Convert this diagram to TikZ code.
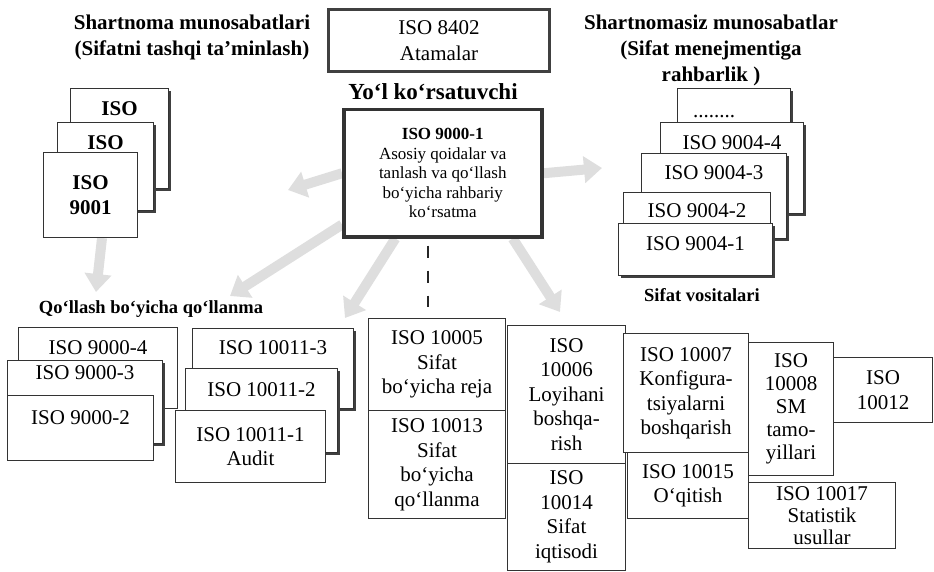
\documentclass[tikz,border=0pt]{standalone}
\usepackage{fontspec}
\setmainfont{Liberation Serif}
\usetikzlibrary{arrows.meta}
\usetikzlibrary{shadows}
\usetikzlibrary{backgrounds}

\begin{document}
\begin{tikzpicture}[x=1pt, y=-1pt,
  isobox/.style={draw=black!80, line width=1pt, fill=white, anchor=north west, inner xsep=2pt, inner ysep=0pt, align=center, font=\fontsize{21}{24.5}\selectfont},
  boldbox/.style={isobox, font=\bfseries\fontsize{21}{24.5}\selectfont},
  shadowed/.style={drop shadow={shadow xshift=2.5pt, shadow yshift=-2.5pt, fill=black!75, opacity=1}},
  heading/.style={align=center, font=\bfseries\fontsize{21}{26}\selectfont},
  caption/.style={font=\bfseries\fontsize{18.5}{22}\selectfont},
  palearrow/.style={line width=10pt, black!13, -{Triangle[width=26pt,length=18pt]}},
  dashline/.style={line width=2pt, black!85, dash pattern=on 12pt off 13pt, dash phase=18pt}]
\useasboundingbox (0,0) rectangle (934,572);

\node[heading] (tleft) at (192,37) {Shartnoma munosabatlari\\(Sifatni tashqi ta'minlash)};
\node[heading] (tright) at (711,50) {Shartnomasiz munosabatlar\\(Sifat menejmentiga\\rahbarlik )};
\node[isobox, line width=3pt, draw=black!75, minimum width=221pt, minimum height=62pt, font=\fontsize{21}{26}\selectfont] (n8402) at (327,8) {ISO 8402\\Atamalar};
\node[font=\bfseries\fontsize{23}{26}\selectfont] (guide) at (433,92) {Yo‘l ko‘rsatuvchi};
\node[isobox, line width=3.5pt, draw=black!80, minimum width=198pt, minimum height=127pt, font=\fontsize{17}{19.5}\selectfont] (n90001) at (342,108) {{\bfseries ISO 9000-1}\\Asosiy qoidalar va\\tanlash va qo‘llash\\bo‘yicha rahbariy\\ko‘rsatma};

\node[boldbox, shadowed, minimum width=98pt, text height=27pt, text depth=73pt] (iso1) at (70,88) {ISO};
\node[boldbox, shadowed, minimum width=96pt, text height=27pt, text depth=61pt] (iso2) at (57,122) {ISO};
\node[boldbox, minimum width=94pt, minimum height=85pt] (iso3) at (43,152) {ISO\\9001};

\node[isobox, shadowed, minimum width=113pt, text height=29pt, text depth=88pt] (rdots) at (677,88) {........\hspace*{40pt}};
\node[isobox, shadowed, minimum width=143pt, text height=27pt, text depth=64pt] (r4) at (660,122) {ISO 9004-4};
\node[isobox, shadowed, minimum width=145pt, text height=26pt, text depth=59pt] (r3) at (641,153) {ISO 9004-3};
\node[isobox, minimum width=147pt, text height=25pt, text depth=33pt] (r2) at (623,192) {ISO 9004-2};
\node[isobox, shadowed, minimum width=154pt, text height=27pt, text depth=25pt] (r1) at (618,223) {ISO 9004-1};
\node[caption] (vosita) at (702,295) {Sifat vositalari};

\node[caption] (qollash) at (151,309) {Qo‘llash bo‘yicha qo‘llanma};
\node[isobox, minimum width=159pt, text height=27pt, text depth=54pt] (a4) at (18,327) {ISO 9000-4};
\node[isobox, shadowed, minimum width=155pt, text height=19pt, text depth=64pt] (a3) at (7,360) {ISO 9000-3};
\node[isobox, minimum width=146pt, text height=29pt, text depth=36pt] (a2) at (7,395) {ISO 9000-2};
\node[isobox, shadowed, minimum width=161pt, text height=26pt, text depth=54pt] (b3) at (192,328) {ISO 10011-3};
\node[isobox, shadowed, minimum width=152pt, text height=28pt, text depth=56pt] (b2) at (185,368) {ISO 10011-2};
\node[isobox, minimum width=150pt, minimum height=72pt] (b1) at (175,410) {ISO 10011-1\\Audit};

\node[isobox, minimum width=137pt, minimum height=92pt] (c05) at (368,318) {ISO 10005\\Sifat\\bo‘yicha reja};
\node[isobox, minimum width=137pt, minimum height=108pt] (c13) at (368,410) {ISO 10013\\Sifat\\bo‘yicha\\qo‘llanma};
\node[isobox, minimum width=118pt, minimum height=138pt] (c06) at (507,325) {ISO\\10006\\Loyihani\\boshqa-\\rish};
\node[isobox, minimum width=118pt, minimum height=107pt] (c14) at (507,463) {ISO\\10014\\Sifat\\iqtisodi};
\node[isobox, minimum width=125pt, minimum height=119pt] (c07) at (623,333) {ISO 10007\\Konfigura-\\tsiyalarni\\boshqarish};
\node[isobox, minimum width=121pt, minimum height=66pt] (c15) at (627,452) {ISO 10015\\O‘qitish};
\node[isobox, minimum width=85pt, minimum height=133pt, font=\fontsize{21}{23}\selectfont] (c08) at (748,342) {ISO\\10008\\SM\\tamo-\\yillari};
\node[isobox, minimum width=99pt, minimum height=65pt] (c12) at (833,357) {ISO\\10012};
\node[isobox, minimum width=147pt, minimum height=66pt, font=\fontsize{21}{22}\selectfont] (c17) at (748,482) {ISO 10017\\Statistik\\usullar};

\coordinate (tipL) at (288,190);
\coordinate (tipLL) at (230,296);
\coordinate (tipD) at (345,318);
\coordinate (tipDR) at (560,312);
\coordinate (tipR) at (602,168);
\coordinate (tipS) at (96,292);
\coordinate (dashend) at (428,307);

\begin{scope}[on background layer]
\draw[palearrow] (n90001.west) -- (tipL);
\draw[palearrow] (n90001.207) -- (tipLL);
\draw[palearrow] (n90001.234) -- (tipD);
\draw[palearrow] (n90001.317) -- (tipDR);
\draw[palearrow] (n90001.east) -- (tipR);
\draw[palearrow] (iso3.-75) -- (tipS);
\end{scope}
\draw[dashline] (n90001.south -| dashend) -- (dashend);
\end{tikzpicture}
\end{document}
